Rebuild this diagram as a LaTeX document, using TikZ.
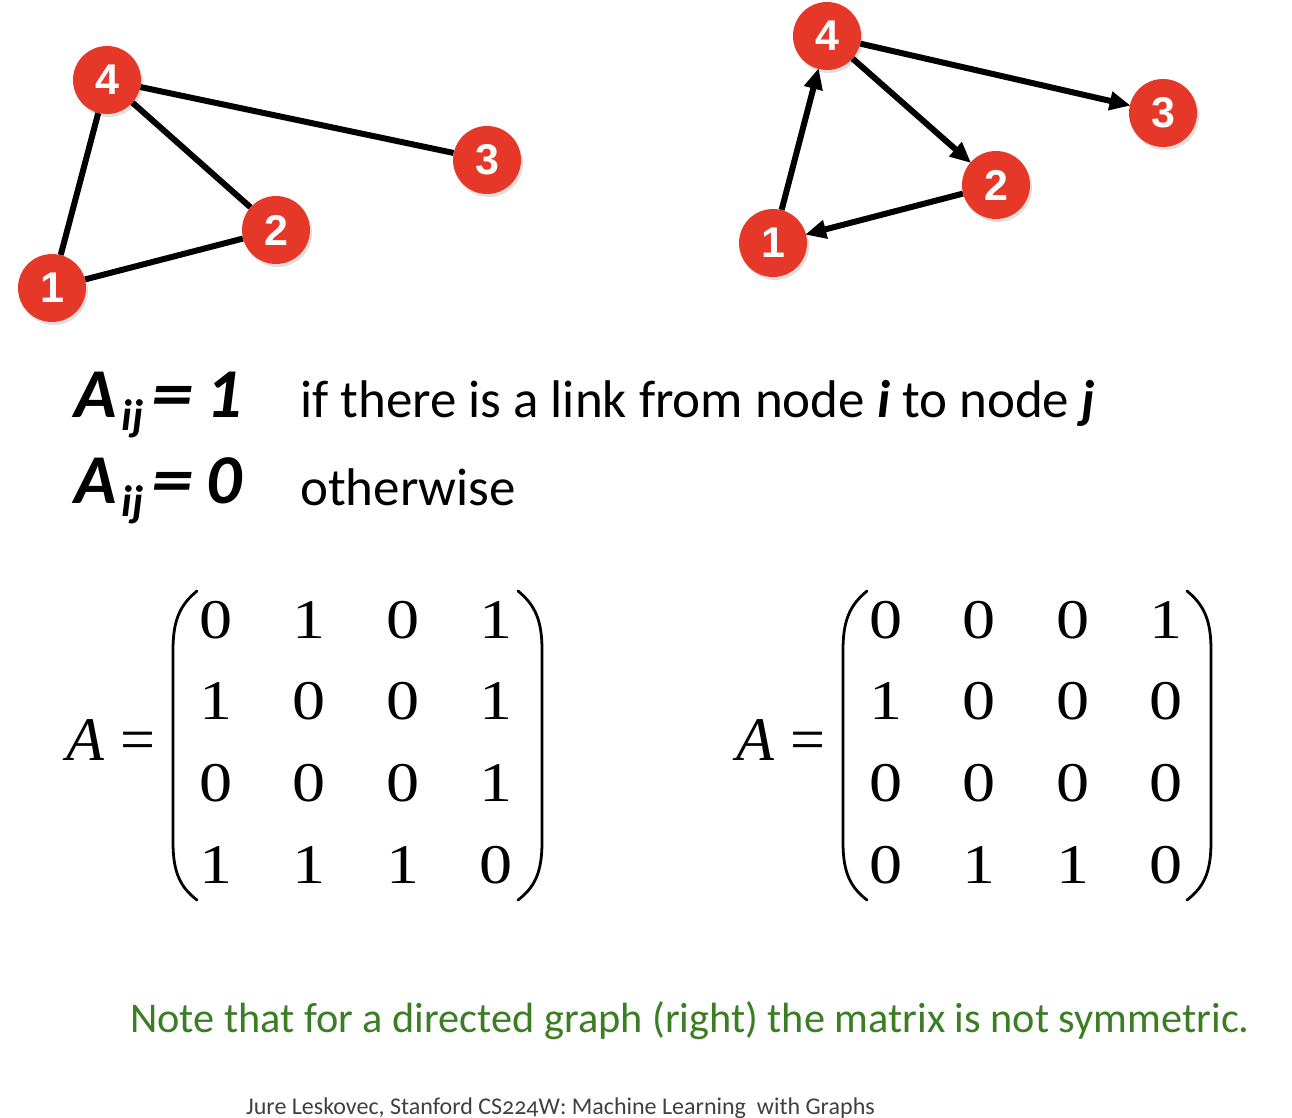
\documentclass[tikz,border=0pt]{standalone}
\usepackage{fontspec}
\setmainfont{Carlito}
\newfontfamily\timesf{Liberation Serif}
\newfontfamily\arialf{Liberation Sans}
\newfontfamily\footf[Numbers=OldStyle]{Carlito}
\usetikzlibrary{arrows.meta,shadows}
\definecolor{nodered}{RGB}{230,56,40}
\definecolor{notegreen}{RGB}{58,125,34}
\definecolor{footgray}{RGB}{64,64,64}
\tikzset{
  gnode/.style={circle,fill=nodered,minimum size=68pt,inner sep=0pt,text=white,
    font=\arialf\bfseries\fontsize{43}{43}\selectfont,
    drop shadow={opacity=0.25,shadow xshift=2pt,shadow yshift=-3pt}},
  edge/.style={line width=6pt,black},
  dedge/.style={line width=6pt,black,-{Triangle[length=21pt,width=18pt]},shorten >=-1pt},
  dig/.style={font=\timesf\fontsize{56}{56}\selectfont,inner sep=0pt,anchor=base},
  paren/.style={line width=2.8pt,line cap=round},
  meq/.style={font=\timesf\fontsize{62}{62}\selectfont,anchor=base,inner sep=0pt},
  deftxt/.style={font=\fontsize{53}{53}\selectfont,anchor=base west,inner sep=0pt},
  aij/.style={font=\bfseries\itshape\fontsize{70}{70}\selectfont,anchor=base west,inner sep=0pt}
}
\newcommand{\aijtext}[1]{A\kern5pt\raisebox{-13pt}{\fontsize{44}{44}\selectfont ij}\kern8pt\scalebox{1.2}[1]{=}\kern13pt #1}
\begin{document}
\begin{tikzpicture}[x=1pt,y=-1pt]
\useasboundingbox[fill=white] (0,0) rectangle (1292,1118);

% left undirected graph
\node[gnode] (a4) at (107,80) {4};
\node[gnode] (a3) at (487,160) {3};
\node[gnode] (a2) at (276,230) {2};
\node[gnode] (a1) at (52,288) {1};
\draw[edge] (a4) -- (a3);
\draw[edge] (a4) -- (a2);
\draw[edge] (a4) -- (a1);
\draw[edge] (a1) -- (a2);

% right directed graph
\node[gnode] (b4) at (827,36) {4};
\node[gnode] (b3) at (1163,113) {3};
\node[gnode] (b2) at (996,185) {2};
\node[gnode] (b1) at (773,243) {1};
\draw[dedge] (b1) -- (b4);
\draw[dedge] (b4) -- (b2);
\draw[dedge] (b4) -- (b3);
\draw[dedge] (b2) -- (b1);

% definitions
\node[aij] (d1) at (74,417) {\aijtext{1}};
\node[aij] (d0) at (74,503) {\aijtext{0}};
\node[deftxt] (t1) at (300,417) {if there is a link from node \textbf{\textit{i}} to node \textbf{\textit{j}}};
\node[deftxt] (t0) at (300,505) {otherwise};

% left matrix
\node[meq,font=\timesf\itshape\fontsize{62}{62}\selectfont] (LA) at (85,760) {A};
\node[meq] (Leq) at (138,760) {=};
\foreach \r/\y/\vals in {1/638/{0,1,0,1},2/719/{1,0,0,1},3/801/{0,0,0,1},4/883/{1,1,1,0}}{
  \foreach \v [count=\c] in \vals {
    \pgfmathsetmacro{\xx}{216+93.3*(\c-1)}
    \node[dig] (L\r\c) at (\xx,\y) {\scalebox{1.18}[1]{\v}};
  }
}
\draw[paren] (197,591) .. controls (180,605) and (173,620) .. (173,650) -- (173,842) .. controls (173,872) and (180,887) .. (197,900);
\draw[paren] (518,591) .. controls (535,605) and (542,620) .. (542,650) -- (542,842) .. controls (542,872) and (535,887) .. (518,900);

% right matrix
\node[meq,font=\timesf\itshape\fontsize{62}{62}\selectfont] (RA) at (755,760) {A};
\node[meq] (Req) at (808,760) {=};
\foreach \r/\y/\vals in {1/638/{0,0,0,1},2/719/{1,0,0,0},3/801/{0,0,0,0},4/883/{0,1,1,0}}{
  \foreach \v [count=\c] in \vals {
    \pgfmathsetmacro{\xx}{886+93.3*(\c-1)}
    \node[dig] (R\r\c) at (\xx,\y) {\scalebox{1.18}[1]{\v}};
  }
}
\draw[paren] (867,591) .. controls (850,605) and (843,620) .. (843,650) -- (843,842) .. controls (843,872) and (850,887) .. (867,900);
\draw[paren] (1187,591) .. controls (1204,605) and (1211,620) .. (1211,650) -- (1211,842) .. controls (1211,872) and (1204,887) .. (1187,900);

% note
\node[font=\fontsize{42.3}{42.3}\selectfont,text=notegreen,anchor=base west,inner sep=0pt] (note) at (130,1032) {Note that for a directed graph (right) the matrix is not symmetric.};
\node[font=\footf\fontsize{24}{24}\selectfont,text=footgray,anchor=base west,inner sep=0pt] (foot) at (246,1114) {Jure Leskovec, Stanford CS224W: Machine Learning\ \ with Graphs};
\end{tikzpicture}
\end{document}
